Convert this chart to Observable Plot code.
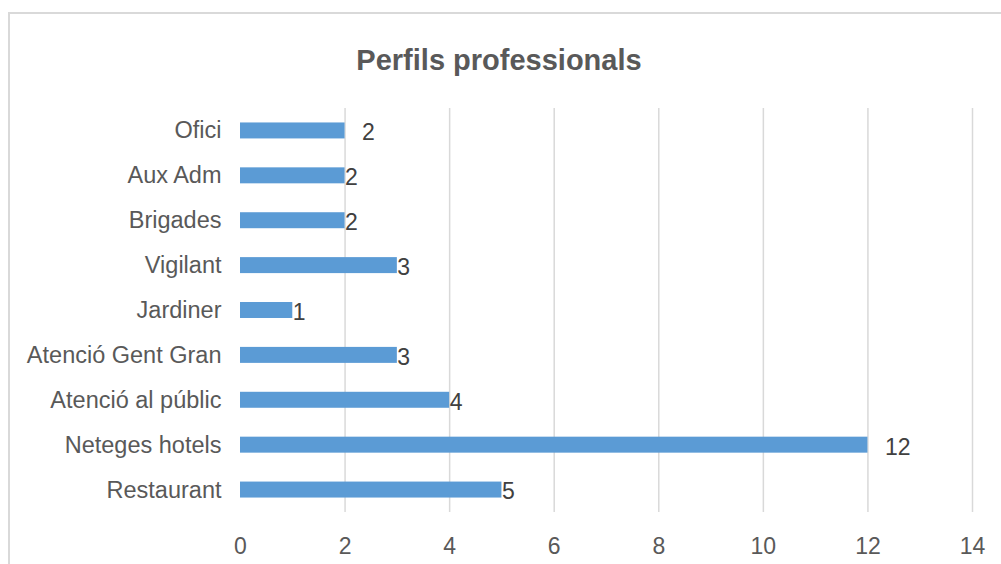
<!DOCTYPE html>
<html>
<head>
<meta charset="utf-8">
<script src="https://cdn.jsdelivr.net/npm/d3@7"></script>
<script src="https://cdn.jsdelivr.net/npm/@observablehq/plot@0.6"></script>
<style>
  html, body { margin: 0; padding: 0; background: #fff; overflow: hidden; }
  #wrap { position: relative; width: 1001px; height: 564px; overflow: hidden; font-family: "Liberation Sans", Arial, sans-serif; }
  #frame { position: absolute; left: 8px; top: 12px; width: 1100px; height: 700px; border: 2px solid #d9d9d9; box-sizing: border-box; }
  #title { position: absolute; left: 0; width: 998px; top: 43px; text-align: center; font-size: 29px; font-weight: bold; color: #595959; line-height: 34px; }
  #chart { position: absolute; left: 0; top: 0; }
</style>
</head>
<body>
<div id="wrap">
  <div id="frame"></div>
  <div id="title">Perfils professionals</div>
  <div id="chart"></div>
</div>
<script>
const categories = ["Ofici", "Aux Adm", "Brigades", "Vigilant", "Jardiner", "Atenció Gent Gran", "Atenció al públic", "Neteges hotels", "Restaurant"];
const values = [2, 2, 2, 3, 1, 3, 4, 12, 5];
const xTicks = [0, 2, 4, 6, 8, 10, 12, 14];
const outsideLabels = ["Ofici", "Neteges hotels"];

const data = categories.map((c, i) => ({category: c, value: values[i]}));
const inside = data.filter(d => !outsideLabels.includes(d.category));
const outside = data.filter(d => outsideLabels.includes(d.category));

const chart = Plot.plot({
  width: 1001,
  height: 564,
  marginLeft: 240,
  marginRight: 29,
  marginTop: 108,
  marginBottom: 52,
  style: {fontFamily: "Liberation Sans, Arial, sans-serif", fontSize: "23px", background: "transparent"},
  x: {domain: [0, 14], ticks: xTicks, label: null},
  y: {domain: categories, paddingInner: 0.644, paddingOuter: 0.322, round: false, label: null},
  marks: [
    Plot.ruleX(xTicks.filter(t => t > 0), {stroke: "#d9d9d9", strokeWidth: 1.5}),
    Plot.barX(data, {y: "category", x: "value", fill: "#5b9bd5"}),
    Plot.text(inside, {y: "category", x: "value", text: d => String(d.value), textAnchor: "start", dx: 0, dy: 2, fontSize: 23, fill: "#404040"}),
    Plot.text(outside, {y: "category", x: "value", text: d => String(d.value), textAnchor: "start", dx: 17, dy: 2, fontSize: 23, fill: "#404040"}),
    Plot.axisX({ticks: xTicks, tickSize: 0, tickPadding: 25, fontSize: 23, color: "#595959", label: null}),
    Plot.axisY({tickSize: 0, tickPadding: 19, fontSize: 23.5, color: "#595959", label: null})
  ]
});
document.getElementById("chart").appendChild(chart);
</script>
</body>
</html>
